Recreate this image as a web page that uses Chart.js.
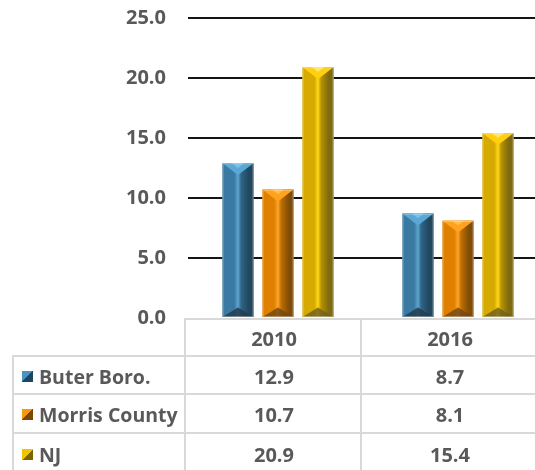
<!DOCTYPE html>
<html>
<head>
<meta charset="utf-8">
<script src="https://cdn.jsdelivr.net/npm/chart.js@4"></script>
<style>
  html, body { margin:0; padding:0; background:#fff; }
  body { width:535px; height:470px; overflow:hidden; position:relative; font-family:'Open Sans', sans-serif; }
  #wrap { position:absolute; left:0; top:0; width:560px; height:330px; }
  #tbl { position:absolute; left:0; top:0; width:535px; height:470px; pointer-events:none; }
  .cell { position:absolute; box-sizing:border-box; border-left:2px solid #d9d9d9; border-top:2px solid #d9d9d9;
          display:flex; align-items:center; justify-content:center; font-weight:bold; font-size:20px; color:#595959; }
  .lab { justify-content:flex-start; padding-left:8px; font-size:19.5px; }
  .sw { width:11px; height:11px; margin-right:6px; flex:none; }
</style>
</head>
<body>
<div id="wrap"><canvas id="c"></canvas></div>
<div id="tbl"></div>
<script>
const categories = ['2010', '2016'];
const seriesNames = ['Buter Boro.', 'Morris County', 'NJ'];
const buterBoro = [12.9, 8.7];
const morrisCounty = [10.7, 8.1];
const nj = [20.9, 15.4];
const yTickValues = [0, 5, 10, 15, 20, 25];

const seriesValues = [buterBoro, morrisCounty, nj];
const palettes = [
  { mid:'#3a7aa2', light:'#5ea6d0', dark1:'#2e6588', dark:'#22475f', top:'#5aa8d6', topIn:'#7cc0e6', bottom:'rgba(35,60,78,0.85)', sw1:'#4b93bf', sw2:'#1f4660' },
  { mid:'#e08000', light:'#ffa52a', dark1:'#c06e00', dark:'#7f4d08', top:'#ffa21e', topIn:'#ffbd55', bottom:'rgba(110,70,20,0.8)', sw1:'#f49a10', sw2:'#7a4800' },
  { mid:'#d6aa00', light:'#ffd81a', dark1:'#b89200', dark:'#7e6a10', top:'#ffcf10', topIn:'#ffe566', bottom:'rgba(110,95,30,0.8)', sw1:'#f2c400', sw2:'#7a6500' }
];

const bevel = {
  id: 'bevel',
  afterDatasetsDraw(chart) {
    const ctx = chart.ctx;
    chart.data.datasets.forEach((ds, i) => {
      const pal = palettes[i];
      chart.getDatasetMeta(i).data.forEach(bar => {
        const p = bar.getProps(['x', 'y', 'base', 'width'], true);
        const l = p.x - p.width / 2, r = p.x + p.width / 2, w = p.width, top = p.y, base = p.base, h = base - top;
        ctx.save();
        const g = ctx.createLinearGradient(l, 0, r, 0);
        g.addColorStop(0, pal.mid); g.addColorStop(0.12, pal.mid);
        g.addColorStop(0.38, pal.mid); g.addColorStop(0.5, pal.light);
        g.addColorStop(0.6, pal.dark1); g.addColorStop(0.85, pal.dark); g.addColorStop(1, pal.dark);
        ctx.fillStyle = g;
        ctx.fillRect(l, top, w, h);
        const d = Math.min(w * 0.38, h / 2);
        ctx.beginPath(); ctx.moveTo(l, top); ctx.lineTo(r, top); ctx.lineTo(p.x, top + d); ctx.closePath();
        ctx.fillStyle = pal.top; ctx.fill();
        ctx.beginPath(); ctx.moveTo(l + w * 0.3, top); ctx.lineTo(r - w * 0.3, top); ctx.lineTo(p.x, top + d * 0.4); ctx.closePath();
        ctx.fillStyle = pal.topIn; ctx.fill();
        ctx.beginPath(); ctx.moveTo(l, base); ctx.lineTo(p.x, base - d * 0.8); ctx.lineTo(r, base); ctx.closePath();
        ctx.fillStyle = pal.bottom; ctx.fill();
        ctx.strokeStyle = 'rgba(255,255,255,0.35)'; ctx.lineWidth = 1;
        ctx.strokeRect(l + 0.5, top + 0.5, w - 1, h - 1);
        ctx.restore();
      });
    });
  }
};

Chart.defaults.font.family = "'Open Sans', sans-serif";
const chart = new Chart(document.getElementById('c'), {
  type: 'bar',
  data: {
    labels: categories,
    datasets: seriesNames.map((n, i) => ({
      label: n, data: seriesValues[i], backgroundColor: palettes[i].mid,
      categoryPercentage: 0.667, barPercentage: 0.775
    }))
  },
  options: {
    responsive: true, maintainAspectRatio: false, animation: false,
    layout: { padding: { top: 0, bottom: 0, right: 12, left: 0 } },
    plugins: { legend: { display: false }, tooltip: { enabled: false } },
    scales: {
      x: { display: false },
      y: {
        min: 0, max: 25,
        afterFit(s) { s.width = 188; },
        afterBuildTicks(s) { s.ticks = yTickValues.map(v => ({ value: v })); },
        border: { display: false },
        grid: { drawTicks: false, lineWidth: 2, color: c => c.tick && c.tick.value === 0 ? 'rgba(0,0,0,0)' : '#151515' },
        ticks: { padding: 22, color: '#595959', font: { size: 20, weight: 'bold' }, callback: v => Number(v).toFixed(1) }
      }
    }
  },
  plugins: [bevel]
});

// place the chart so the plot area spans y=18..318
(function fit() {
  const wrap = document.getElementById('wrap');
  const H = wrap.clientHeight;
  const dt = chart.chartArea.top, db = H - chart.chartArea.bottom;
  wrap.style.top = (18 - dt) + 'px';
  wrap.style.height = (300 + dt + db) + 'px';
  chart.resize();
})();

// data table
const tbl = document.getElementById('tbl');
const colX = [12, 184, 360, 536];
const rowY = [318, 355, 393, 432, 472];
function cell(x, y, w, h, html, cls) {
  const d = document.createElement('div');
  d.className = 'cell' + (cls ? ' ' + cls : '');
  d.style.left = x + 'px'; d.style.top = y + 'px'; d.style.width = w + 'px'; d.style.height = h + 'px';
  d.innerHTML = html;
  tbl.appendChild(d);
}
categories.forEach((c, j) => cell(colX[j + 1], rowY[0], colX[j + 2] - colX[j + 1] + 2, rowY[1] - rowY[0] + 2, c));
seriesNames.forEach((n, i) => {
  const pal = palettes[i];
  cell(colX[0], rowY[i + 1], colX[1] - colX[0] + 2, rowY[i + 2] - rowY[i + 1] + 2,
    '<span class="sw" style="background:linear-gradient(to top left,' + pal.sw2 + ' 50%,' + pal.sw1 + ' 50%)"></span>' + n, 'lab');
  categories.forEach((c, j) => cell(colX[j + 1], rowY[i + 1], colX[j + 2] - colX[j + 1] + 2, rowY[i + 2] - rowY[i + 1] + 2,
    seriesValues[i][j].toFixed(1)));
});
</script>
</body>
</html>
